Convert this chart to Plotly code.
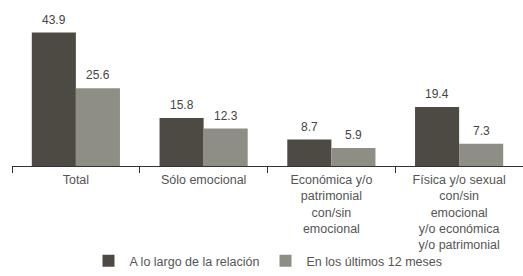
import plotly.graph_objects as go

categories = [
    "Total",
    "Sólo emocional",
    "Económica y/o<br>patrimonial<br>con/sin<br>emocional",
    "Física y/o sexual<br>con/sin<br>emocional<br>y/o económica<br>y/o patrimonial",
]
series_names = ["A lo largo de la relación", "En los últimos 12 meses"]
vals_relacion = [43.9, 15.8, 8.7, 19.4]
vals_12meses = [25.6, 12.3, 5.9, 7.3]
colors = ["#4c4a42", "#8f8e84"]

fig = go.Figure()
for name, vals, col in zip(series_names, [vals_relacion, vals_12meses], colors):
    fig.add_trace(go.Bar(
        x=categories, y=vals, name=name,
        marker=dict(color=col, line=dict(width=0)),
        hoverinfo="x+y",
    ))

# value labels above each bar (offset left/right within the group)
for vals, xs in zip([vals_relacion, vals_12meses], [-22, 22]):
    for c, v in zip(categories, vals):
        fig.add_annotation(
            x=c, y=v, text=f"{v:.1f}", showarrow=False,
            xshift=xs, yshift=4, yanchor="bottom",
            font=dict(size=12, color="#444444"),
        )

fig.update_layout(
    width=523, height=276,
    margin=dict(l=12, r=0, t=14, b=110, autoexpand=False),
    paper_bgcolor="white", plot_bgcolor="white",
    barmode="group", bargap=0.31, bargroupgap=0,
    font=dict(family="Liberation Sans, Arial, sans-serif", size=12.5, color="#555555"),
    showlegend=True,
    legend=dict(orientation="h", x=0.5, xanchor="center", y=-0.625, yanchor="middle",
                font=dict(size=12.5, color="#555555"), bgcolor="rgba(0,0,0,0)",
                traceorder="normal", itemwidth=32),
)
fig.update_xaxes(
    showline=True, linecolor="#333333", linewidth=1,
    ticks="outside", tickson="boundaries", ticklen=6, tickcolor="#333333",
    tickfont=dict(size=12.5, color="#555555"),
    ticklabelstandoff=2,
    showgrid=False, automargin=False,
)
fig.update_yaxes(range=[0, 50], visible=False, showgrid=False, automargin=False)

fig.write_html("out.html", config={"displayModeBar": False},
               post_script="document.body.style.margin='0';document.body.style.overflow='hidden';")
